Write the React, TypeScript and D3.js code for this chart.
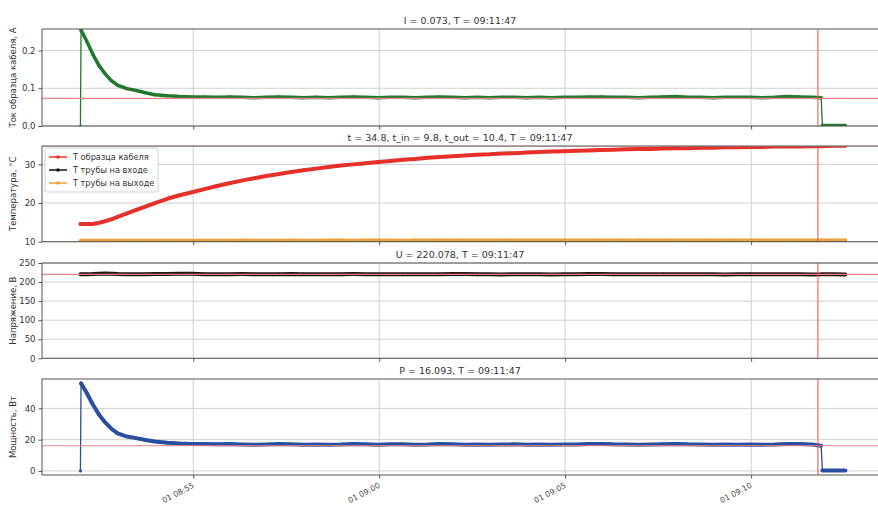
import React, { useEffect, useRef } from "react";
import * as d3 from "d3";

// time of each sample, seconds after 08:51:58
const secs = [
  0, 1, 10, 20, 30, 40, 50, 60, 75, 90, 105, 120, 140, 160, 180,
  200, 220, 240, 260, 280, 300, 320, 340, 360, 380,
  400, 420, 440, 460, 480, 500, 520, 540, 560, 580,
  600, 620, 640, 660, 680, 700, 720, 740, 760, 780,
  800, 820, 840, 860, 880, 900, 920, 940, 960, 980,
  1000, 1020, 1040, 1060, 1080, 1100, 1120, 1140, 1160, 1180,
  1195, 1197, 1215, 1234,
];

const current = [
  0, 0.254, 0.225, 0.19, 0.16, 0.138, 0.12, 0.108, 0.099, 0.094, 0.088, 0.083, 0.08, 0.078, 0.077,
  0.077, 0.076, 0.077, 0.076, 0.075, 0.076, 0.077, 0.076, 0.075, 0.076,
  0.075, 0.076, 0.077, 0.076, 0.075, 0.076, 0.076, 0.075, 0.076, 0.077,
  0.076, 0.075, 0.076, 0.075, 0.076, 0.076, 0.075, 0.076, 0.075, 0.076,
  0.076, 0.077, 0.077, 0.076, 0.076, 0.075, 0.076, 0.077, 0.078, 0.076,
  0.076, 0.075, 0.076, 0.076, 0.076, 0.075, 0.076, 0.078, 0.077, 0.076,
  0.075, 0.001, 0.001, 0.001,
];

const tCable = [
  14.6, 14.6, 14.6, 14.6, 14.9, 15.3, 15.8, 16.4, 17.3, 18.2, 19.1, 20.0, 21.1, 22.0, 22.8,
  23.6, 24.4, 25.1, 25.8, 26.4, 27.0, 27.5, 28.0, 28.5, 28.9,
  29.3, 29.7, 30.0, 30.3, 30.6, 30.9, 31.2, 31.4, 31.7, 31.9,
  32.1, 32.3, 32.5, 32.6, 32.8, 32.9, 33.1, 33.2, 33.3, 33.4,
  33.5, 33.6, 33.7, 33.8, 33.9, 34.0, 34.0, 34.1, 34.2, 34.2,
  34.3, 34.3, 34.4, 34.4, 34.5, 34.5, 34.6, 34.6, 34.6, 34.7,
  34.7, 34.7, 34.8, 34.8,
];

const tIn = [
  9.8, 9.8, 9.8, 9.8, 9.8, 9.8, 9.8, 9.8, 9.8, 9.8, 9.8, 9.8, 9.8, 9.8, 9.8,
  9.8, 9.8, 9.8, 9.8, 9.8, 9.8, 9.8, 9.8, 9.8, 9.8,
  9.8, 9.8, 9.8, 9.8, 9.8, 9.8, 9.8, 9.8, 9.8, 9.8,
  9.8, 9.8, 9.8, 9.8, 9.8, 9.8, 9.8, 9.8, 9.8, 9.8,
  9.8, 9.8, 9.8, 9.8, 9.8, 9.8, 9.8, 9.8, 9.8, 9.8,
  9.8, 9.8, 9.8, 9.8, 9.8, 9.8, 9.8, 9.8, 9.8, 9.8,
  9.8, 9.8, 9.8, 9.8,
];

const tOut = [
  10.3, 10.3, 10.3, 10.3, 10.3, 10.3, 10.3, 10.3, 10.3, 10.3, 10.3, 10.3, 10.3, 10.3, 10.3,
  10.3, 10.3, 10.3, 10.4, 10.3, 10.3, 10.3, 10.4, 10.3, 10.3,
  10.4, 10.4, 10.3, 10.4, 10.4, 10.4, 10.3, 10.4, 10.4, 10.4,
  10.4, 10.4, 10.4, 10.4, 10.4, 10.4, 10.4, 10.4, 10.4, 10.4,
  10.4, 10.4, 10.4, 10.4, 10.4, 10.4, 10.4, 10.4, 10.4, 10.4,
  10.4, 10.4, 10.4, 10.4, 10.4, 10.4, 10.4, 10.4, 10.4, 10.4,
  10.4, 10.4, 10.4, 10.4,
];

const voltage = [
  220.4, 220.4, 220.6, 220.9, 221.8, 222.2, 221.9, 221.0, 220.5, 220.3, 220.6, 220.9, 221.2, 222.0, 221.8,
  220.8, 220.4, 220.6, 221.0, 220.7, 220.3, 220.6, 221.1, 220.8, 220.4,
  220.2, 220.6, 220.9, 220.5, 220.3, 220.5, 220.8, 220.4, 220.2, 220.6,
  220.9, 221.2, 220.7, 220.4, 220.1, 220.3, 220.5, 220.2, 220.0, 220.3,
  220.6, 220.9, 221.1, 220.7, 220.4, 220.2, 220.5, 220.8, 220.4, 220.2,
  220.5, 220.3, 220.1, 220.4, 220.6, 220.3, 220.2, 220.5, 220.3, 220.1,
  220.2, 220.3, 220.2, 220.1,
];

const power = [
  0, 56, 50, 42.5, 36, 31, 27, 24, 22, 21, 19.8, 18.8, 18, 17.5, 17.2,
  17.3, 17.0, 17.2, 16.9, 16.7, 16.9, 17.2, 17.0, 16.8, 16.9,
  16.7, 16.9, 17.3, 17.1, 16.8, 17.0, 17.1, 16.8, 16.9, 17.2,
  17.0, 16.8, 16.9, 16.7, 16.9, 17.0, 16.8, 16.9, 16.7, 16.9,
  16.9, 17.2, 17.3, 17.0, 16.9, 16.7, 16.9, 17.1, 17.3, 17.0,
  16.9, 16.7, 16.9, 16.8, 16.9, 16.7, 16.9, 17.3, 17.2, 16.9,
  16.1, 0.2, 0.2, 0.2,
];

const yTicksI = [0, 0.1, 0.2];
const yTicksT = [10, 20, 30];
const yTicksU = [0, 50, 100, 150, 200, 250];
const yTicksP = [0, 20, 40];
const xTicks = ["08:55:00", "09:00:00", "09:05:00", "09:10:00"];
const legendNames = ["Т образца кабеля", "Т трубы на входе", "Т трубы на выходе"];

const START = "08:51:58";
const MARK = "09:11:47";
const lastI = 0.073, lastT = 34.8, lastTin = 9.8, lastTout = 10.4, lastU = 220.078, lastP = 16.093;

const FONT = "DejaVu Sans, sans-serif";

function App() {
  const ref = useRef<SVGSVGElement>(null);

  useEffect(() => {
    const svg = d3.select(ref.current);
    svg.selectAll("*").remove();

    const parse = d3.timeParse("%H:%M:%S");
    const t0 = parse(START)!.getTime();
    const times = secs.map((s) => new Date(t0 + s * 1000));
    const mark = parse(MARK)!;

    const left = 42, right = 885;
    const x = d3.scaleTime()
      .domain([parse("08:50:56")!, parse("09:13:36")!])
      .range([left, right]);

    const panels = [
      {
        top: 29, bottom: 126, domain: [0, 0.257], ticks: yTicksI, fmt: d3.format(".1f"),
        label: "Ток образца кабеля, А", title: `I = ${lastI}, T = ${MARK}`, hline: lastI,
        series: [{ v: current, c: "#23782f", w: 3.5 }],
      },
      {
        top: 146, bottom: 241.7, domain: [10, 34.75], ticks: yTicksT, fmt: d3.format("d"),
        label: "Температура, °C", title: `t = ${lastT}, t_in = ${lastTin}, t_out = ${lastTout}, T = ${MARK}`, hline: lastT,
        series: [
          { v: tCable, c: "#e8302a", w: 4 },
          { v: tIn, c: "#111111", w: 3 },
          { v: tOut, c: "#eba23c", w: 3.5 },
        ],
      },
      {
        top: 263, bottom: 358.3, domain: [0, 250], ticks: yTicksU, fmt: d3.format("d"),
        label: "Напряжение, В", title: `U = ${lastU}, T = ${MARK}`, hline: lastU,
        series: [{ v: voltage, c: "#2a1212", w: 4 }],
      },
      {
        top: 379, bottom: 475, domain: [-2.6, 58.8], ticks: yTicksP, fmt: d3.format("d"),
        label: "Мощность, Вт", title: `P = ${lastP}, T = ${MARK}`, hline: lastP,
        series: [{ v: power, c: "#2b4f9e", w: 4 }],
      },
    ];

    panels.forEach((p, pi) => {
      const y = d3.scaleLinear().domain(p.domain).range([p.bottom, p.top]);
      const g = svg.append("g");
      const clipId = `clip${pi}`;
      svg.append("defs").append("clipPath").attr("id", clipId)
        .append("rect").attr("x", left).attr("y", p.top)
        .attr("width", right - left).attr("height", p.bottom - p.top);

      // grid
      g.selectAll(".gx").data(xTicks.map((s) => parse(s)!)).join("line")
        .attr("x1", (d) => x(d)).attr("x2", (d) => x(d))
        .attr("y1", p.top).attr("y2", p.bottom)
        .attr("stroke", "#cfcfcf").attr("stroke-width", 1);
      g.selectAll(".gy").data(p.ticks).join("line")
        .attr("x1", left).attr("x2", right)
        .attr("y1", (d) => y(d)).attr("y2", (d) => y(d))
        .attr("stroke", "#cfcfcf").attr("stroke-width", 1);

      // series
      const plot = g.append("g").attr("clip-path", `url(#${clipId})`);
      const line = d3.line<number>().x((_, i) => x(times[i])).y((d) => y(d));
      p.series.forEach((s) => {
        plot.append("path").attr("d", line(s.v))
          .attr("fill", "none").attr("stroke", s.c).attr("stroke-width", 1.3);
        // dense runs (no jumps) drawn thick like the marker-covered trace
        const runs: number[][] = [[0]];
        for (let i = 1; i < s.v.length; i++) {
          if (Math.abs(y(s.v[i]) - y(s.v[i - 1])) > 15) runs.push([i]);
          else runs[runs.length - 1].push(i);
        }
        runs.filter((r) => r.length > 1).forEach((r) => {
          const l2 = d3.line<number>().x((i) => x(times[i])).y((i) => y(s.v[i]));
          plot.append("path").attr("d", l2(r))
            .attr("fill", "none").attr("stroke", s.c).attr("stroke-width", s.w)
            .attr("stroke-linejoin", "round").attr("stroke-linecap", "round");
        });
        plot.selectAll(null).data(s.v).join("circle")
          .attr("cx", (_, i) => x(times[i])).attr("cy", (d) => y(d))
          .attr("r", 1.6).attr("fill", s.c);
      });

      // reference lines
      plot.append("line").attr("x1", left).attr("x2", right)
        .attr("y1", y(p.hline)).attr("y2", y(p.hline))
        .attr("stroke", "#f08686").attr("stroke-width", 1.2);
      plot.append("line").attr("x1", x(mark) + 0.5).attr("x2", x(mark) + 0.5)
        .attr("y1", p.top).attr("y2", p.bottom)
        .attr("stroke", "#ec4a4a").attr("stroke-width", 1);

      // frame
      g.append("rect").attr("x", left).attr("y", p.top)
        .attr("width", right - left).attr("height", p.bottom - p.top)
        .attr("fill", "none").attr("stroke", "#555").attr("stroke-width", 1);

      // y axis
      const yAxis = g.append("g").attr("transform", `translate(${left},0)`)
        .call(d3.axisLeft(y).tickValues(p.ticks).tickFormat(p.fmt as any).tickSize(3.5).tickPadding(3));
      yAxis.select(".domain").remove();
      yAxis.selectAll("line").attr("stroke", "#555");
      yAxis.selectAll("text").attr("fill", "#333").attr("font-size", 8.5).attr("font-family", FONT);

      // x axis ticks
      const xAxis = g.append("g").attr("transform", `translate(0,${p.bottom})`)
        .call(d3.axisBottom(x).tickValues(xTicks.map((s) => parse(s)!)).tickSize(3.5)
          .tickFormat(pi === panels.length - 1 ? (d3.timeFormat("%d %H:%M") as any) : () => ""));
      xAxis.select(".domain").remove();
      xAxis.selectAll("line").attr("stroke", "#555");
      xAxis.selectAll("text").attr("fill", "#444").attr("font-size", 7.8).attr("font-family", FONT)
        .attr("text-anchor", "end").attr("x", 0).attr("y", 0).attr("dy", 0)
        .attr("transform", "translate(1,12) rotate(-28)");

      // title
      g.append("text").attr("x", (left + 878) / 2).attr("y", p.top - 5)
        .attr("text-anchor", "middle").attr("font-size", 9.5).attr("font-family", FONT)
        .attr("fill", "#333").text(p.title);

      // y label
      g.append("text")
        .attr("transform", `translate(16,${(p.top + p.bottom) / 2}) rotate(-90)`)
        .attr("text-anchor", "middle").attr("font-size", 8.5).attr("font-family", FONT)
        .attr("fill", "#333").text(p.label);

      // legend
      if (pi === 1) {
        const lg = g.append("g").attr("transform", `translate(45,${p.top + 2})`);
        lg.append("rect").attr("width", 113).attr("height", 44).attr("rx", 2)
          .attr("fill", "white").attr("fill-opacity", 0.85).attr("stroke", "#d0d0d0");
        legendNames.forEach((name, k) => {
          const ly = 9 + k * 13;
          const c = p.series[k].c;
          lg.append("line").attr("x1", 4).attr("x2", 22).attr("y1", ly).attr("y2", ly)
            .attr("stroke", c).attr("stroke-width", 1.5);
          lg.append("circle").attr("cx", 13).attr("cy", ly).attr("r", 1.8).attr("fill", c);
          lg.append("text").attr("x", 28).attr("y", ly + 3).attr("font-size", 8.2)
            .attr("font-family", FONT).attr("fill", "#333").text(name);
        });
      }
    });
  }, []);

  return (
    <svg ref={ref} width={878} height={505}
      style={{ position: "absolute", left: 0, top: 0, background: "white" }} />
  );
}

export default App;
